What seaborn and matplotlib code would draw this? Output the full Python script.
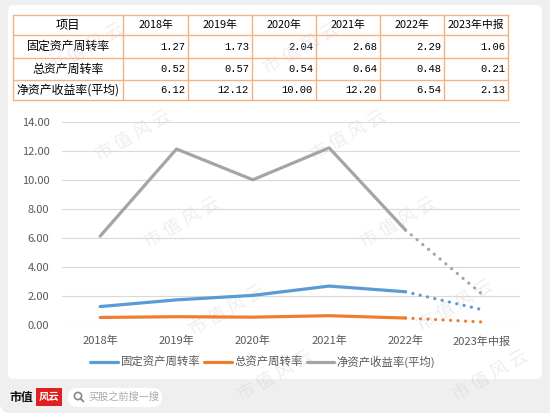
import matplotlib
matplotlib.use("Agg")
import matplotlib.pyplot as plt
from matplotlib.patches import FancyBboxPatch, Rectangle
import seaborn as sns
import pandas as pd
import numpy as np

# ---- data ----
years = ["2018年", "2019年", "2020年", "2021年", "2022年", "2023年中报"]
series_names = ["固定资产周转率", "总资产周转率", "净资产收益率(平均)"]
fixed_turnover = [1.27, 1.73, 2.04, 2.68, 2.29, 1.06]
total_turnover = [0.52, 0.57, 0.54, 0.64, 0.48, 0.21]
roe_avg = [6.12, 12.12, 10.00, 12.20, 6.54, 2.13]
table_header = "项目"
colors = ["#5b9bd5", "#ed7d31", "#a5a5a5"]

sns.set_theme(style="white")
plt.rcParams['font.family'] = ['Noto Sans CJK SC', 'DejaVu Sans']

W, H = 550, 417
fig = plt.figure(figsize=(W / 100, H / 100), dpi=100)
fig.patch.set_facecolor("white")

def P(x, y):
    return (x / W, 1 - y / H)

# background
bg = fig.add_axes([0, 0, 1, 1], zorder=-10)
bg.set_xlim(0, W); bg.set_ylim(H, 0); bg.axis("off")
bg.add_patch(FancyBboxPatch((0, -10), W + 10, 423, boxstyle="round,pad=0,rounding_size=10",
                            fc="#efefef", ec="none"))
bg.add_patch(FancyBboxPatch((8, 5), 534, 374, boxstyle="round,pad=0,rounding_size=6",
                            fc="white", ec="none"))

# ---- table ----
col_edges = [13, 123, 188, 252, 316, 380, 444, 508]
row_edges = [15, 35, 58, 80, 100]
border = "#f4b183"
for x in col_edges:
    bg.plot([x, x], [row_edges[0], row_edges[-1]], color=border, lw=1.0)
for y in row_edges:
    bg.plot([col_edges[0], col_edges[-1]], [y, y], color=border, lw=1.0)

rows = [series_names[0], series_names[1], series_names[2]]
vals = [fixed_turnover, total_turnover, roe_avg]
def cy(i):
    return (row_edges[i] + row_edges[i + 1]) / 2

bg.text((col_edges[0] + col_edges[1]) / 2, cy(0), table_header, ha="center", va="center",
        fontsize=8.8, color="black")
for j, yr in enumerate(years):
    bg.text((col_edges[j + 1] + col_edges[j + 2]) / 2, cy(0), yr, ha="center", va="center",
            fontsize=7.8, color="black")
for i, name in enumerate(rows):
    bg.text((col_edges[0] + col_edges[1]) / 2, cy(i + 1), name, ha="center", va="center",
            fontsize=8.6, color="black")
    for j, v in enumerate(vals[i]):
        bg.text(col_edges[j + 2] - 3, cy(i + 1), f"{v:.2f}", ha="right", va="center",
                fontsize=7.6, color="black", family=["Liberation Mono", "DejaVu Sans Mono"])

# ---- chart ----
x0, x1 = 62, 520
ytop, ybot = 121.7, 325
ax = fig.add_axes([x0 / W, 1 - ybot / H, (x1 - x0) / W, (ybot - ytop) / H])
ax.set_facecolor("none")

idx = list(range(len(years)))
records = []
for name, arr in zip(series_names, vals):
    for k, v in zip(idx, arr):
        records.append({"x": k, "value": v, "series": name})
df = pd.DataFrame(records)
pal = dict(zip(series_names, colors))

solid = df[df["x"] <= 4]
dotted = df[df["x"] >= 4]
sns.lineplot(data=solid, x="x", y="value", hue="series", palette=pal, ax=ax,
             linewidth=2.3, legend=True, hue_order=series_names)
handles, labels = ax.get_legend_handles_labels()
ax.get_legend().remove()
n_solid = len(ax.lines)
for ln in ax.lines:
    ln.set_solid_capstyle("round")
sns.lineplot(data=dotted, x="x", y="value", hue="series", palette=pal, ax=ax,
             linewidth=2.3, legend=False, hue_order=series_names)
for ln in ax.lines[n_solid:]:
    ln.set_linestyle((0, (0.05, 2.3)))
    ln.set_dash_capstyle("round")

ax.set_xlim(-0.5, 5.5)
ax.set_ylim(0, 14)
ax.set_yticks(np.arange(0, 14.01, 2))
ax.set_yticklabels([f"{t:.2f}" for t in np.arange(0, 14.01, 2)])
ax.set_xticks(idx)
ax.set_xticklabels(years)
ax.tick_params(axis="both", length=0, labelsize=8, colors="#595959")
ax.tick_params(axis="x", pad=8)
ax.tick_params(axis="y", pad=9)
ax.set_xlabel(""); ax.set_ylabel("")
ax.grid(axis="y", color="#d9d9d9", lw=0.8)
ax.grid(axis="x", visible=False)
for s in ax.spines.values():
    s.set_visible(False)
ax.set_axisbelow(True)

leg = fig.legend(handles, labels, loc="center", bbox_to_anchor=P(263, 362), ncol=3,
                 frameon=False, fontsize=8.2, handlelength=2.4, handletextpad=0.25,
                 columnspacing=0.35, labelcolor="#595959")
for lh in leg.get_lines():
    lh.set_linewidth(2.3)

# ---- footer ----
bg.text(10, 397, "市值", ha="left", va="center", fontsize=8.6, fontweight="bold",
        color="#111111")
bg.add_patch(Rectangle((36, 388), 26, 18, fc="#e02020", ec="none"))
bg.text(49, 397, "风云", ha="center", va="center", fontsize=7.5, color="white",
        fontstyle="italic", fontweight="bold")
bg.add_patch(FancyBboxPatch((68, 388), 94, 19, boxstyle="round,pad=0,rounding_size=9.5",
                            fc="white", ec="none"))
bg.add_patch(plt.Circle((78, 396), 3.6, fc="none", ec="#888888", lw=1.2))
bg.plot([80.6, 83.5], [398.6, 401.5], color="#888888", lw=1.3, solid_capstyle="round")
bg.text(88, 397, "买股之前搜一搜", ha="left", va="center", fontsize=7.3, color="#aaaaaa")

# ---- watermarks (faint) ----
wm_centers = [(86, 48), (301, 48), (133, 135), (348, 135), (182, 222), (398, 222),
              (227, 310), (455, 305), (275, 375), (490, 375)]
for cx, cyy in wm_centers:
    bg.text(cx, cyy, "市 值 风 云", ha="center", va="center", fontsize=13,
            rotation=30, color="#c8c8c8", alpha=0.3, zorder=50)

fig.savefig("out.png", dpi=100)
